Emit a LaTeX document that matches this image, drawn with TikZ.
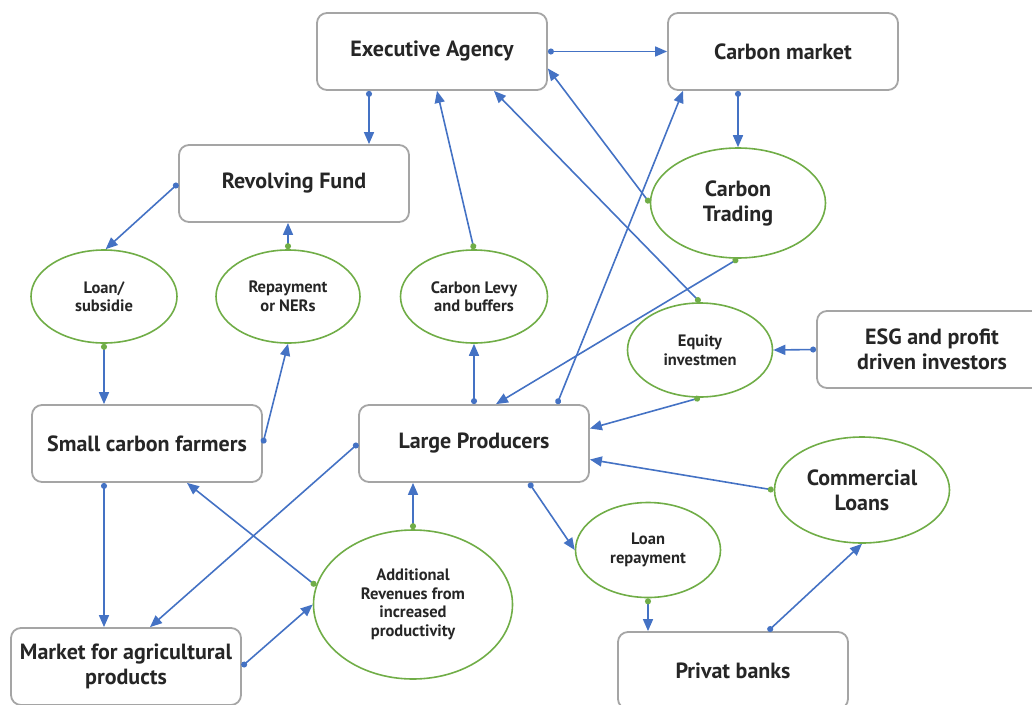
\documentclass[tikz,border=0pt]{standalone}
\usepackage{fontspec}
\setmainfont{PT Sans}
\usetikzlibrary{arrows.meta,shapes.geometric}

\definecolor{flowblue}{HTML}{4472C4}
\definecolor{ellgreen}{HTML}{70AD47}
\definecolor{boxgray}{HTML}{A5A5A5}
\definecolor{inkdark}{HTML}{262626}

\begin{document}
\begin{tikzpicture}[
    x = 1pt, y = -1pt, % one unit = one pixel, y downwards
    line join = round,
    font = \bfseries\color{inkdark}
    ]

    \tikzset{
    box/.style = {
    draw = boxgray,
    line width = 1.8pt,
    rounded corners = 10pt,
    minimum width = 230pt,
    minimum height = 77pt,
    align = center,
    font = \fontsize{22}{25}\selectfont\bfseries\color{inkdark}
    },
    bubble/.style = {
    ellipse,
    draw = ellgreen,
    line width = 1.6pt,
    inner sep = 0pt,
    align = center,
    font = \fontsize{16.5}{18.5}\selectfont\bfseries\color{inkdark}
    },
    big/.style = {font = \fontsize{22}{25}\selectfont\bfseries\color{inkdark}},
    flow/.style = {
    draw = flowblue,
    line width = 1.6pt,
    arrows = {Circle[length=6pt]-Triangle[length=12pt,width=10pt]}
    },
    gflow/.style = {
    flow,
    arrows = {Circle[length=6pt,color=ellgreen]-Triangle[length=12pt,width=10pt]}
    }
    }

    \useasboundingbox (0,0) rectangle (1032,704);

    % boxes
    \node[box] (exec) at (432,51.5) {Executive Agency};
    \node[box] (cmkt) at (783,51.5) {Carbon market};
    \node[box] (revolv) at (294,183.5) {Revolving Fund};
    \node[box] (small) at (147,443.5) {Small carbon farmers};
    \node[box] (large) at (474,443.5) {Large Producers};
    \node[box] (esg) at (932,349.5) {ESG and profit\\driven investors};
    \node[box] (market) at (126,666.5) {Market for agricultural\\products};
    \node[box] (banks) at (733,670.5) {Privat banks};

    % bubbles
    \node[bubble, minimum width=146pt, minimum height=93pt] (loan) at (104,296.5) {Loan/\\subsidie};
    \node[bubble, minimum width=144pt, minimum height=93pt] (repay) at (288,296.5) {Repayment\\or NERs};
    \node[bubble, minimum width=147pt, minimum height=93pt] (levy) at (474,296.5) {Carbon Levy\\and buffers};
    \node[bubble, big, minimum width=175pt, minimum height=110pt] (trading) at (738,203) {Carbon\\Trading};
    \node[bubble, minimum width=145pt, minimum height=94pt] (equity) at (700,350) {Equity\\investmen};
    \node[bubble, big, minimum width=175pt, minimum height=106pt] (comm) at (862,490) {Commercial\\Loans};
    \node[bubble, minimum width=145pt, minimum height=95pt] (lrepay) at (648,550) {Loan\\repayment};
    \node[bubble, minimum width=199pt, minimum height=149pt] (addrev) at (413,604.5) {Additional\\Revenues from\\increased\\productivity};

    % connectors
    \draw[flow] (exec.east) -- (cmkt.west);
    \draw[flow] ([xshift=-63pt]exec.south) -- ([xshift=75pt]revolv.north);
    \draw[flow] ([xshift=-45pt]cmkt.south) -- (trading.north);
    \draw[flow] (revolv.west) -- (loan.88);
    \draw[gflow] (repay.north) -- (repay.north |- revolv.south);
    \draw[gflow] (loan.south) -- (loan.south |- small.north);
    \draw[flow] (small.east) -- (repay.south);
    \draw[gflow] (levy.north) -- ([xshift=5pt]exec.south);
    \draw[gflow] (trading.west) -- ([yshift=-17pt]exec.east);
    \draw[gflow] (equity.north) -- ([xshift=62pt]exec.south);
    \draw[gflow] (trading.south) -- ([xshift=22pt]large.north);
    \draw[flow] ([xshift=83pt]large.north) -- ([xshift=-100pt]cmkt.south);
    \draw[gflow] (equity.south) -- ([yshift=15pt]large.east);
    \draw[flow] (esg.west) -- (equity.east);
    \draw[gflow] (comm.west) -- ([yshift=-16pt]large.east);
    \draw[flow] ([xshift=55pt]large.south) -- (lrepay.west);
    \draw[gflow] (lrepay.south) -- (lrepay.south |- banks.north);
    \draw[flow] ([xshift=35pt]banks.north) -- (comm.south);
    \draw[flow] (large.north) -- (levy.south);
    \draw[flow] (large.west) -- ([xshift=24pt]market.north);
    \draw[flow] ([xshift=-43pt]small.south) -- ([xshift=-22pt]market.north);
    \draw[gflow] (addrev.169) -- ([xshift=40pt]small.south);
    \draw[flow] (market.east) -- (addrev.180);
    \draw[gflow] (addrev.north) -- ([xshift=-61pt]large.south);
\end{tikzpicture}
\end{document}
